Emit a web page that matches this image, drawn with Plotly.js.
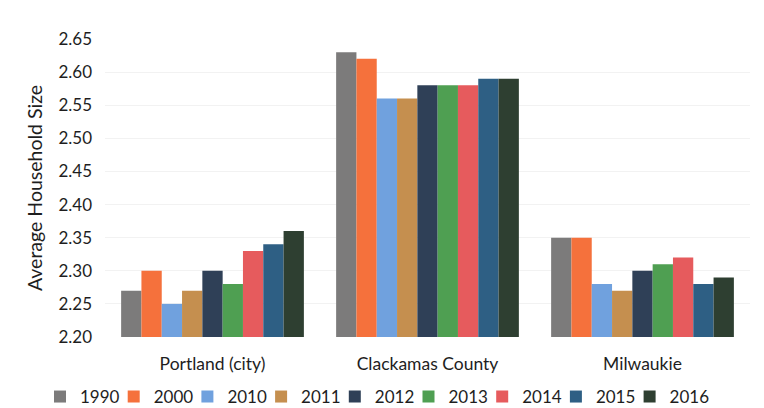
<!DOCTYPE html>
<html>
<head>
<meta charset="utf-8">
<script src="https://cdn.plot.ly/plotly-3.0.1.min.js"></script>
<style>html,body{margin:0;padding:0;background:#fff;}#chart{width:764px;height:408px;}</style>
</head>
<body>
<div id="chart"></div>
<script>
const categories = ["Portland (city)", "Clackamas County", "Milwaukie"];
const years = ["1990", "2000", "2010", "2011", "2012", "2013", "2014", "2015", "2016"];
const v1990 = [2.27, 2.63, 2.35];
const v2000 = [2.30, 2.62, 2.35];
const v2010 = [2.25, 2.56, 2.28];
const v2011 = [2.27, 2.56, 2.27];
const v2012 = [2.30, 2.58, 2.30];
const v2013 = [2.28, 2.58, 2.31];
const v2014 = [2.33, 2.58, 2.32];
const v2015 = [2.34, 2.59, 2.28];
const v2016 = [2.36, 2.59, 2.29];
const yTicks = [2.20, 2.25, 2.30, 2.35, 2.40, 2.45, 2.50, 2.55, 2.60, 2.65];
const axisBase = 2.20;

const series = [v1990, v2000, v2010, v2011, v2012, v2013, v2014, v2015, v2016];
const colors = ["#7c7b7b", "#f5713c", "#70a1de", "#c58f4f", "#2f4057", "#4f9f52", "#e65b5d", "#2e5f84", "#2e3f31"];

// one legend per series so the legend row is laid out like the original
const legendIds = series.map((_, i) => i === 0 ? "legend" : "legend" + (i + 1));

const traces = series.map((vals, i) => ({
  type: "bar",
  name: years[i],
  x: categories,
  y: vals.map(v => v - axisBase),
  base: axisBase,
  marker: {color: colors[i]},
  legend: legendIds[i],
  hoverinfo: "x+name"
}));

const layout = {
  width: 764, height: 408,
  margin: {l: 105, r: 14, t: 39, b: 71, autoexpand: false},
  paper_bgcolor: "#fff", plot_bgcolor: "#fff",
  font: {family: "Lato, 'Open Sans', sans-serif", color: "#1e1e1e", size: 16},
  barmode: "group",
  bargap: 0.15,
  bargroupgap: 0,
  xaxis: {
    showline: false, ticks: "", showgrid: false,
    tickfont: {size: 17.5, color: "#1e1e1e"},
    ticklabelstandoff: 14
  },
  yaxis: {
    range: [2.20, 2.65],
    tickvals: yTicks,
    ticktext: yTicks.map(v => v.toFixed(2)),
    showgrid: true, gridcolor: "#f2f2f2",
    zeroline: false, showline: false, ticks: "",
    tickfont: {size: 17, color: "#1e1e1e"},
    ticklabelstandoff: 12,
    title: {text: "Average Household Size", font: {size: 19.5, color: "#1e1e1e"}, standoff: 10}
  },
  showlegend: true
};

legendIds.forEach((id, i) => {
  layout[id] = {
    orientation: "h",
    xref: "container", yref: "container",
    x: (40 + 73.7 * i) / 764, xanchor: "left",
    y: 0.027, yanchor: "middle",
    font: {size: 17, color: "#1e1e1e"},
    itemwidth: 30, tracegroupgap: 0,
    bgcolor: "rgba(0,0,0,0)"
  };
});

Plotly.newPlot("chart", traces, layout, {displayModeBar: false, staticPlot: true});
</script>
</body>
</html>
